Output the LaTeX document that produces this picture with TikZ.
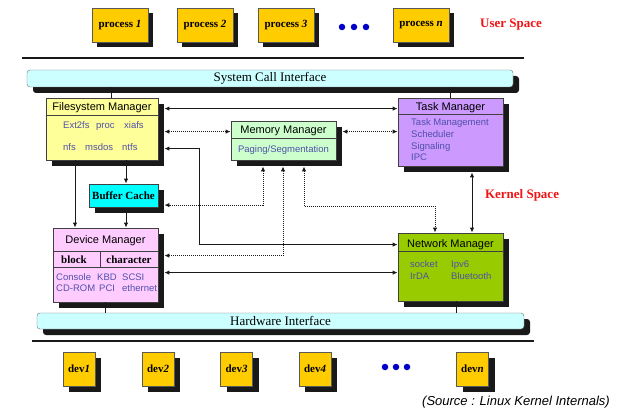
\documentclass[tikz,border=0pt]{standalone}
\usepackage{fontspec}
\setmainfont{Liberation Serif}
\setsansfont{Liberation Sans}
\usetikzlibrary{arrows.meta}
\definecolor{gold}{RGB}{255,204,0}
\definecolor{sky}{RGB}{204,255,255}
\definecolor{cyanbox}{RGB}{0,255,255}
\definecolor{butter}{RGB}{255,255,153}
\definecolor{mint}{RGB}{204,255,204}
\definecolor{lilac}{RGB}{204,153,255}
\definecolor{pinkbox}{RGB}{255,204,255}
\definecolor{leafgreen}{RGB}{153,204,0}
\definecolor{slate}{RGB}{80,80,170}
\definecolor{alert}{RGB}{240,20,20}
\definecolor{dotblue}{RGB}{0,0,200}
\definecolor{ink}{RGB}{25,25,25}
\tikzset{
  >={Latex[length=5pt,width=4.5pt]},
  tile/.style={draw=black!65,fill=gold,minimum height=34pt,inner sep=0pt,
    font=\fontsize{11}{13}\selectfont\bfseries},
  proc/.style={tile,minimum width=56pt},
  dev/.style={tile,minimum width=32pt},
  ifbar/.style={draw=black!55,fill=sky,rounded corners=3pt,inner sep=0pt,
    font=\fontsize{13}{15}\selectfont},
  mgr/.style={draw=black!75,fill=#1,line width=0.8pt,inner sep=0pt},
  mgrline/.style={draw=black!75,line width=0.8pt},
  mgrtitle/.style={font=\sffamily\fontsize{11}{13}\selectfont,inner sep=0pt,
    text height=8pt,text depth=2.5pt},
  item/.style={font=\sffamily\fontsize{9.5}{11}\selectfont,text=slate,inner sep=0pt,
    text height=7pt,text depth=2pt},
  cellname/.style={font=\fontsize{11}{13}\selectfont\bfseries,inner sep=0pt},
  spacelabel/.style={font=\fontsize{13}{15}\selectfont\bfseries,text=alert},
  link/.style={draw=ink,line width=1pt},
  dlink/.style={link,densely dotted},
  sepline/.style={draw=ink,line width=2pt},
  bullet/.style={circle,fill=dotblue,inner sep=0pt,minimum size=6.5pt},
  boxshadow/.style={fill=ink},
}

\begin{document}
\begin{tikzpicture}[x=1pt,y=-1pt]
  \useasboundingbox (0,0) rectangle (617,419);
  % shadows
  \foreach \xa/\ya/\xb/\yb in {97/13/153/47,182/13/238/47,263/13/319/47,398/13/454/47,
      52/104/164/166,237/127/342/166,404/104/509/172,95/190/164/213,
      59/234/164/308,404/239/509/307,69/358/101/392,148/358/180/392,
      226.5/358/258.5/392,305/358/337/392,462.5/358/494.5/392}
    \fill[boxshadow] (\xa,\ya) rectangle (\xb,\yb);
  \foreach \xa/\ya/\xb/\yb in {33/76/519/93,43/319/530/335}
    \fill[boxshadow,rounded corners=3pt] (\xa,\ya) rectangle (\xb,\yb);

  % user space
  \foreach \n/\x in {1/120,2/205,3/286,n/421}
    \node[proc] (p\n) at (\x,25) {process \textit{\n}};
  \foreach \x [count=\i] in {342,354,366}
    \node[bullet] (pd\i) at (\x,27) {};
  \node[spacelabel] (us) at (511,25) {User Space};
  \draw[sepline] (22,58) -- (524,58);

  % kernel
  \node[ifbar,minimum width=486pt,minimum height=17pt] (sci) at (270,78.5) {System Call Interface};
  \node[mgr=butter,minimum width=112pt,minimum height=62pt] (fm) at (102,129) {};
  \node[mgr=mint,minimum width=105pt,minimum height=39pt] (mm) at (283.5,140.5) {};
  \node[mgr=lilac,minimum width=105pt,minimum height=68pt] (tm) at (450.5,132) {};
  \node[mgr=cyanbox,minimum width=69pt,minimum height=23pt,
    font=\fontsize{11}{13}\selectfont\bfseries] (bc) at (123.5,195.5) {Buffer Cache};
  \node[mgr=pinkbox,minimum width=105pt,minimum height=74pt] (dm) at (105.5,265) {};
  \node[mgr=leafgreen,minimum width=105pt,minimum height=68pt] (nm) at (450.5,267) {};
  \node[ifbar,minimum width=487pt,minimum height=16pt] (hw) at (280.5,321) {Hardware Interface};

  \draw[mgrline] (fm.west |- 0,115) -- (fm.east |- 0,115);
  \draw[mgrline] (mm.west |- 0,138) -- (mm.east |- 0,138);
  \draw[mgrline] (tm.west |- 0,114) -- (tm.east |- 0,114);
  \draw[mgrline] (dm.west |- 0,251) -- (dm.east |- 0,251)
    (dm.west |- 0,267) -- (dm.east |- 0,267) (100,251) -- (100,267);
  \draw[mgrline] (nm.west |- 0,251) -- (nm.east |- 0,251);

  \node[mgrtitle] (fmt) at (102,108) {Filesystem Manager};
  \node[mgrtitle] (mmt) at (283.5,131) {Memory Manager};
  \node[mgrtitle] (tmt) at (450.5,108) {Task Manager};
  \node[mgrtitle] (dmt) at (105.5,240.5) {Device Manager};
  \node[mgrtitle] (nmt) at (450.5,244.5) {Network Manager};

  \foreach \w/\x/\y [count=\i] in {Ext2fs/63/126,proc/96/126,xiafs/124/126,
      nfs/63/148,msdos/85/148,ntfs/122/148}
    \node[item,anchor=west] (fs\i) at (\x,\y) {\w};
  \node[item] (mmi) at (283.5,150) {Paging/Segmentation};
  \foreach \w/\y [count=\i] in {Task Management/123,Scheduler/135,Signaling/147,IPC/158}
    \node[item,anchor=west] (tk\i) at (411,\y) {\w};
  \node[cellname] (blk) at (74,260) {block};
  \node[cellname] (chr) at (129,259.5) {character};
  \foreach \w/\x/\y [count=\i] in {Console/56/278,KBD/97/278,SCSI/122/278,
      CD-ROM/56/289,PCI/99/289,ethernet/122/289}
    \node[item,anchor=west] (dv\i) at (\x,\y) {\w};
  \foreach \w/\x/\y [count=\i] in {socket/410/265,Ipv6/451/265,IrDA/410/277,Bluetooth/451/277}
    \node[item,anchor=west] (nw\i) at (\x,\y) {\w};
  \node[spacelabel] (ks) at (522,195) {Kernel Space};

  % connectors
  \draw[link] ([xshift=9pt]fm.north) -- ([xshift=9pt]fm.north |- sci.south);
  \draw[link] (tm.north) -- (tm.north |- sci.south);
  \draw[link,<->] ([shift={(6,11)}]fm.north east) -- ([shift={(0,11)}]tm.north west);
  \draw[dlink,<->] ([shift={(6,34)}]fm.north east) -- ([shift={(0,11)}]mm.north west);
  \draw[dlink,<->] ([shift={(6,11)}]mm.north east) -- ([shift={(0,34)}]tm.north west);
  \draw[link,<->] ([shift={(6,51)}]fm.north east) -| ([shift={(-198,12)}]nm.north west)
    -- ([shift={(0,12)}]nm.north west);
  \draw[link,<->] ([shift={(21.5,6)}]tm.south) -- ([xshift=21.5pt]tm.south |- nm.north);
  \draw[link,->] ([xshift=24pt]fm.south) -- ([xshift=24pt]fm.south |- bc.north);
  \draw[link,->] ([xshift=-27pt]fm.south) -- ([xshift=-27pt]fm.south |- dm.north);
  \draw[link,<->] ([xshift=2.5pt]bc.south) -- ([xshift=2.5pt]bc.south |- dm.north);
  \draw[dlink,<->] ([shift={(-20.5,6)}]mm.south) |- ([shift={(6,21.5)}]bc.north east);
  \draw[dlink,<->] ([shift={(-0.5,6)}]mm.south) |- ([shift={(6,28)}]dm.north east);
  \draw[dlink,<->] ([shift={(20.5,6)}]mm.south) -- ++(0,40) -| ([xshift=-15.5pt]nm.north);
  \draw[link,<->] ([shift={(6,45)}]dm.north east) -- ([shift={(0,40)}]nm.north west);
  \draw[link] (dm.south) -- (dm.south |- hw.north);
  \draw[link] ([xshift=5.5pt]nm.south) -- ([xshift=5.5pt]nm.south |- hw.north);

  % hardware
  \draw[sepline] (32,341) -- (534,341);
  \foreach \n/\x in {1/79,2/158,3/236.5,4/315,n/472.5}
    \node[dev] (d\n) at (\x,369) {dev\textit{\n}};
  \foreach \x [count=\i] in {385,396,407}
    \node[bullet] (dd\i) at (\x,367) {};
  \node[font=\sffamily\itshape\fontsize{13}{15}\selectfont] (src) at (516,402)
    {(Source : Linux Kernel Internals)};
\end{tikzpicture}
\end{document}
